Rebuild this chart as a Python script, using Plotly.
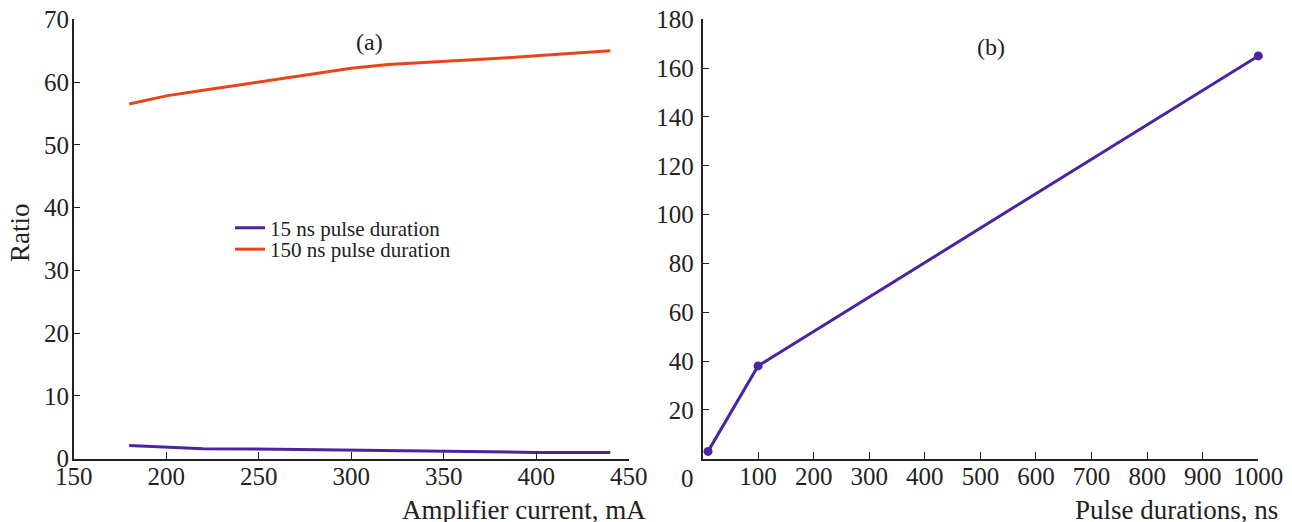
import plotly.graph_objects as go

# Panel (a): ratio vs amplifier current
current_ma = [180, 200, 220, 240, 260, 280, 300, 320, 340, 360, 380, 400, 420, 440]
ratio_150ns = [56.5, 57.8, 58.7, 59.6, 60.5, 61.4, 62.2, 62.8, 63.1, 63.4, 63.8, 64.2, 64.6, 65.0]
current_ma_15 = [180, 200, 220, 260, 300, 320, 360, 400, 440]
ratio_15ns = [2.1, 1.85, 1.6, 1.5, 1.35, 1.2, 1.15, 1.0, 1.0]

# Panel (b): ratio vs pulse duration
pulse_ns = [10, 100, 1000]
ratio_pulse = [3, 38, 165]

x_ticks_a = [150, 200, 250, 300, 350, 400, 450]
y_ticks_a = [0, 10, 20, 30, 40, 50, 60, 70]
x_ticks_b = [100, 200, 300, 400, 500, 600, 700, 800, 900, 1000]
y_ticks_b = [20, 40, 60, 80, 100, 120, 140, 160, 180]

BLUE = "#4b24a2"
RED = "#e8441a"
INK = "#222222"
FONT = "Liberation Serif"

W, H = 1292, 522
OFF = 8  # page body margin offset


def px(x):
    return (x - OFF) / W


def py(y):
    return 1 - (y - OFF) / H


fig = go.Figure()
fig.add_trace(go.Scatter(x=current_ma_15, y=ratio_15ns, mode="lines", name="15 ns pulse duration",
                         line=dict(color=BLUE, width=3), xaxis="x", yaxis="y", legend="legend"))
fig.add_trace(go.Scatter(x=current_ma, y=ratio_150ns, mode="lines", name="150 ns pulse duration",
                         line=dict(color=RED, width=3), xaxis="x", yaxis="y", legend="legend2"))
fig.add_trace(go.Scatter(x=pulse_ns, y=ratio_pulse, mode="lines+markers", showlegend=False,
                         line=dict(color=BLUE, width=3), marker=dict(color=BLUE, size=9),
                         xaxis="x2", yaxis="y2", cliponaxis=False))

axis_common = dict(showline=True, linecolor=INK, linewidth=1.5, ticks="inside", ticklen=7,
                   tickwidth=1.3, tickcolor=INK, showgrid=False, zeroline=False, automargin=False,
                   ticklabeloverflow="allow",
                   tickfont=dict(family=FONT, size=25, color=INK))

ydom = [py(458.7), py(19.3)]
legend_common = dict(xanchor="left", yanchor="top", bgcolor="rgba(0,0,0,0)",
                     font=dict(family=FONT, size=21, color=INK), borderwidth=0)
fig.update_layout(
    width=W, height=H,
    paper_bgcolor="white", plot_bgcolor="white",
    margin=dict(l=0, r=0, t=0, b=0, pad=0),
    font=dict(family=FONT, color=INK),
    xaxis=dict(domain=[px(73.7), px(628.8)], range=[150, 450], tickvals=x_ticks_a,
               anchor="y", ticklabelstandoff=-5, **axis_common),
    yaxis=dict(domain=ydom, range=[0, 70], tickvals=y_ticks_a, anchor="x",
               ticklabelstandoff=-2, **axis_common),
    xaxis2=dict(domain=[px(702.5), px(1258.3)], range=[0, 1000], tickvals=x_ticks_b,
                anchor="y2", ticklabelstandoff=-5, **axis_common),
    yaxis2=dict(domain=ydom, range=[0, 180], tickvals=y_ticks_b, anchor="x2",
                ticklabelstandoff=2, **axis_common),
    legend=dict(x=px(230), y=py(207.5), **legend_common),
    legend2=dict(x=px(230), y=py(229), **legend_common),
    annotations=[
        dict(text="(a)", x=310, y=66.4, xref="x", yref="y", showarrow=False,
             font=dict(family=FONT, size=24, color=INK)),
        dict(text="(b)", x=519, y=168.8, xref="x2", yref="y2", showarrow=False,
             font=dict(family=FONT, size=24, color=INK)),
        dict(text="0", x=0, y=0, xref="x2", yref="y2", xshift=-15, yshift=-20, showarrow=False,
             yanchor="middle", font=dict(family=FONT, size=25, color=INK)),
        dict(text="Amplifier current, mA", x=px(648), y=py(510), xref="paper", yref="paper",
             xanchor="right", yanchor="middle", showarrow=False,
             font=dict(family=FONT, size=27, color=INK)),
        dict(text="Pulse durations, ns", x=px(1280), y=py(510), xref="paper", yref="paper",
             xanchor="right", yanchor="middle", showarrow=False,
             font=dict(family=FONT, size=27, color=INK)),
        dict(text="Ratio", x=px(20), y=py(233), xref="paper", yref="paper",
             xanchor="center", yanchor="middle", textangle=-90, showarrow=False,
             font=dict(family=FONT, size=27, color=INK)),
    ],
)

fig.write_html("out.html")
